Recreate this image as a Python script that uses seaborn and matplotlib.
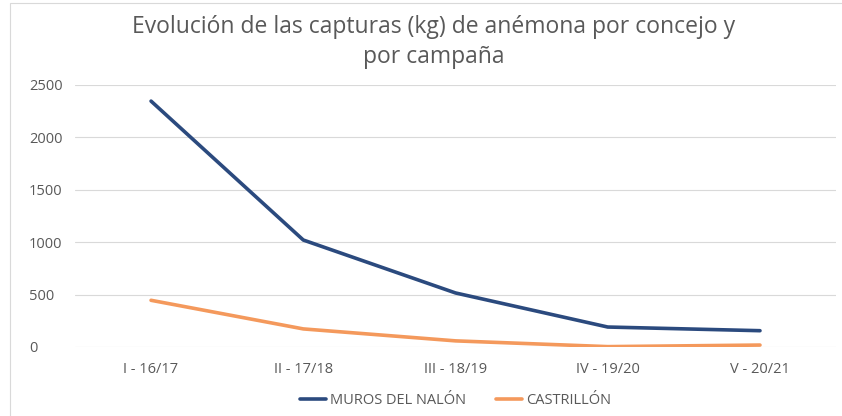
import pandas as pd
import matplotlib.pyplot as plt
import seaborn as sns
from matplotlib.patches import Rectangle

# Daten
campanas = ["I - 16/17", "II - 17/18", "III - 18/19", "IV - 19/20", "V - 20/21"]
muros = [2345, 1020, 515, 190, 155]
castrillon = [445, 172, 58, 3, 18]

df = pd.DataFrame({
    "campana": campanas * 2,
    "kg": muros + castrillon,
    "concejo": ["MUROS DEL NALÓN"] * 5 + ["CASTRILLÓN"] * 5,
})

sns.set_style("white")
plt.rcParams["font.family"] = ["Open Sans", "DejaVu Sans"]
gris = "#595959"

fig = plt.figure(figsize=(8.42, 4.16), dpi=100)
ax = fig.add_axes([0.089, 0.166, 0.904, 0.63])

sns.lineplot(
    data=df, x="campana", y="kg", hue="concejo",
    palette=["#2B4A7E", "#F4995C"], linewidth=2.6, sort=False, ax=ax, legend=True
)

ax.set_xlim(-0.5, 4.5)
ax.set_ylim(0, 2500)
ax.set_yticks(range(0, 2501, 500))
ax.grid(axis="y", color="#D9D9D9", linewidth=0.8)
ax.set_axisbelow(True)
for s in ax.spines.values():
    s.set_visible(False)
ax.tick_params(axis="both", length=0, labelsize=10.5, colors=gris, pad=11)
ax.tick_params(axis="y", pad=33)
for lbl in ax.get_yticklabels():
    lbl.set_horizontalalignment("left")
ax.set_xlabel("")
ax.set_ylabel("")

ax.legend(
    loc="center", bbox_to_anchor=(0.5, -0.205), ncol=2, frameon=False,
    fontsize=10.5, labelcolor=gris, handlelength=1.8, columnspacing=2.0, handletextpad=0.3
)

fig.text(0.515, 0.935, "Evolución de las capturas (kg) de anémona por concejo y",
         ha="center", va="center", fontsize=16.5, color=gris)
fig.text(0.515, 0.863, "por campaña", ha="center", va="center", fontsize=16.5, color=gris)

# Rahmen des Diagramms
fig.patches.append(Rectangle((0.012, -0.1), 1.2, 1.093, transform=fig.transFigure,
                             fill=False, edgecolor="#D9D9D9", linewidth=0.8))

fig.savefig("out.png", dpi=100)
